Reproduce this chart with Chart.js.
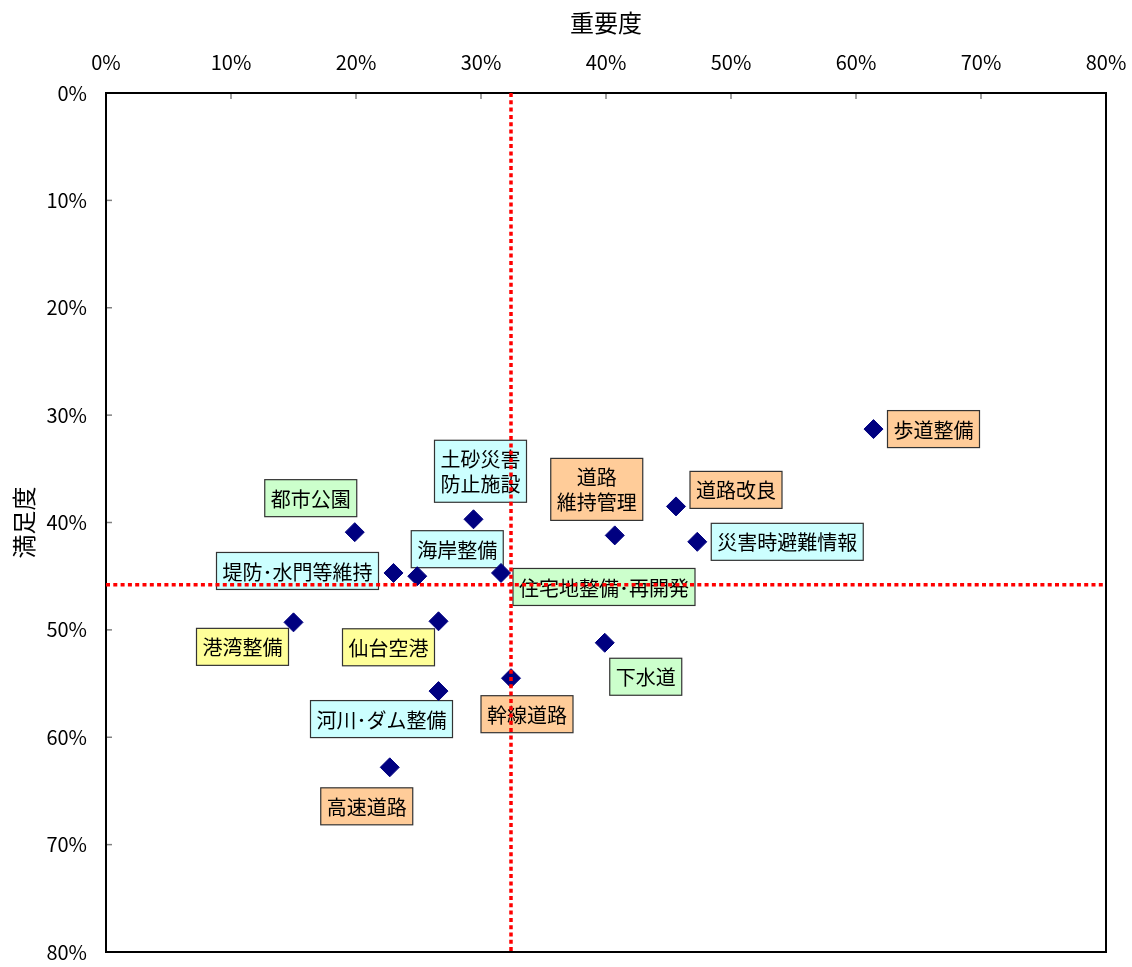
<!DOCTYPE html>
<html>
<head>
<meta charset="utf-8">
<script src="https://cdn.jsdelivr.net/npm/chart.js@4.4.1/dist/chart.umd.min.js"></script>
<style>
  body { margin: 0; background: #fff; }
</style>
</head>
<body>
<canvas id="myChart" width="1132" height="967"></canvas>
<script>
// donnees du graph (重要度 = x, 満足度 = y, en %)
const categories = ['歩道整備', '道路改良', '災害時避難情報', '道路\n維持管理', '土砂災害\n防止施設',
  '都市公園', '堤防･水門等維持', '海岸整備', '住宅地整備･再開発', '港湾整備',
  '仙台空港', '下水道', '幹線道路', '河川･ダム整備', '高速道路'];
const importance   = [61.4, 45.6, 47.3, 40.7, 29.4, 19.9, 23.0, 24.9, 31.6, 15.0, 26.6, 39.9, 32.4, 26.6, 22.7];
const satisfaction = [31.3, 38.5, 41.8, 41.2, 39.7, 40.9, 44.7, 45.0, 44.7, 49.3, 49.2, 51.2, 54.5, 55.7, 62.8];
const avgImportance = 32.4;
const avgSatisfaction = 45.8;
const axisTicks = [0, 10, 20, 30, 40, 50, 60, 70, 80];

// style des etiquettes
const ORANGE = '#FFCC99', CYAN = '#CCFFFF', GREEN = '#CCFFCC', YELLOW = '#FFFF99';
const boxColors = [ORANGE, ORANGE, CYAN, ORANGE, CYAN, GREEN, CYAN, CYAN, GREEN, YELLOW, YELLOW, GREEN, ORANGE, CYAN, ORANGE];
// decalage du centre de l'etiquette par rapport au point (px)
const labelOffsets = [[60, 0], [60, -16.5], [90, 0], [-18, -46], [7, -48], [-44, -34], [-96, -2], [40, -27],
  [103, 14], [-51, 24.5], [-50, 26], [41, 34], [16, 36], [-57, 28], [-23, 39]];

const FONT = "'Noto Sans CJK JP', 'Noto Sans', sans-serif";
Chart.defaults.font.family = FONT;
Chart.defaults.color = '#000';

const points = importance.map((v, i) => ({x: v, y: satisfaction[i]}));

// cadre, petites graduations, etiquettes
const frameAndLabels = {
  id: 'frameAndLabels',
  beforeDatasetsDraw(chart) {
    const {ctx, chartArea: a, scales: {x, y}} = chart;
    ctx.save();
    ctx.strokeStyle = '#808080';
    ctx.lineWidth = 1.5;
    x.ticks.forEach(t => {
      const px = x.getPixelForValue(t.value);
      ctx.beginPath(); ctx.moveTo(px, a.top); ctx.lineTo(px, a.top + 6); ctx.stroke();
    });
    y.ticks.forEach(t => {
      const py = y.getPixelForValue(t.value);
      ctx.beginPath(); ctx.moveTo(a.left, py); ctx.lineTo(a.left + 6, py); ctx.stroke();
    });
    ctx.strokeStyle = '#000';
    ctx.lineWidth = 2;
    ctx.strokeRect(a.left, a.top, a.right - a.left, a.bottom - a.top);

    ctx.font = '20px ' + FONT;
    ctx.textAlign = 'center';
    ctx.textBaseline = 'middle';
    categories.forEach((name, i) => {
      const lines = name.split('\n');
      const w = Math.max(...lines.map(l => ctx.measureText(l).width)) + 12;
      const h = lines.length * 25 + 12;
      const cx = x.getPixelForValue(importance[i]) + labelOffsets[i][0];
      const cy = y.getPixelForValue(satisfaction[i]) + labelOffsets[i][1];
      ctx.fillStyle = boxColors[i];
      ctx.fillRect(cx - w / 2, cy - h / 2, w, h);
      ctx.strokeStyle = '#333';
      ctx.lineWidth = 1.2;
      ctx.strokeRect(cx - w / 2, cy - h / 2, w, h);
      ctx.fillStyle = '#000';
      lines.forEach((l, k) => ctx.fillText(l, cx, cy - (lines.length - 1) * 12.5 + k * 25 + 1));
    });
    ctx.restore();
  }
};

const redLine = {
  type: 'line',
  borderColor: '#FF0000',
  borderWidth: 3.5,
  borderDash: [4, 3.3],
  pointRadius: 0,
  fill: false,
  order: 0
};

new Chart(document.getElementById('myChart'), {
  type: 'scatter',
  data: {
    datasets: [
      Object.assign({data: [{x: avgImportance, y: 0}, {x: avgImportance, y: 80}]}, redLine),
      Object.assign({data: [{x: 0, y: avgSatisfaction}, {x: 80, y: avgSatisfaction}]}, redLine),
      {
        data: points,
        pointStyle: 'rectRot',
        pointRadius: 9.5,
        backgroundColor: '#000080',
        borderColor: '#000080',
        borderWidth: 1,
        order: 1
      }
    ]
  },
  options: {
    responsive: false,
    animation: false,
    devicePixelRatio: 1,
    layout: { padding: {left: 0, top: 0, right: 26, bottom: 15} },
    plugins: { legend: {display: false}, tooltip: {enabled: false} },
    scales: {
      x: {
        type: 'linear',
        position: 'top',
        min: 0, max: 80,
        afterBuildTicks: s => { s.ticks = axisTicks.map(v => ({value: v})); },
        afterFit: s => { s.height = 93; s.paddingLeft = 0; s.paddingRight = 0; },
        grid: {display: false, drawTicks: false},
        border: {display: false},
        ticks: {padding: 19, font: {size: 20}, callback: v => v + '%'},
        title: {display: true, text: '重要度', font: {size: 24}, padding: {top: 8, bottom: 0}}
      },
      y: {
        type: 'linear',
        reverse: true,
        min: 0, max: 80,
        afterBuildTicks: s => { s.ticks = axisTicks.map(v => ({value: v})); },
        afterFit: s => { s.width = 106; s.paddingTop = 0; s.paddingBottom = 0; },
        grid: {display: false, drawTicks: false},
        border: {display: false},
        ticks: {padding: 19, font: {size: 20}, callback: v => v + '%'},
        title: {display: true, text: '満足度', font: {size: 24}, padding: {top: 9, bottom: 0}}
      }
    }
  },
  plugins: [frameAndLabels]
});
</script>
</body>
</html>
